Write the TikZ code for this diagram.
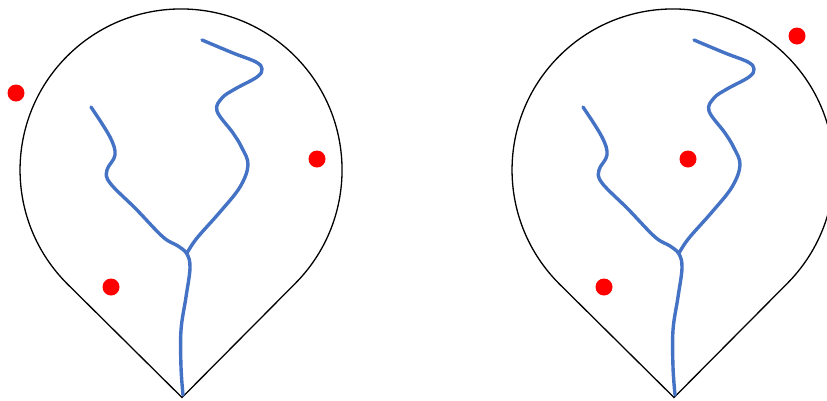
\documentclass[tikz,border=0pt]{standalone}
\usepackage{tikz}

\tikzset{
  outline/.style={draw=black, line width=1.3pt, line join=miter},
  river/.style={draw={rgb,255:red,68;green,114;blue,196}, line width=3.4pt, line cap=round, line join=round},
  spot/.style={fill=red}
}

\begin{document}
\begin{tikzpicture}[x=1pt, y=-1pt]
  \useasboundingbox (0,0) rectangle (827,400);
  \clip (0,0) rectangle (827,400);

  % two basins, same outline and river
  \foreach \dx in {0,492} {
    \begin{scope}[xshift=\dx]
      \draw[outline] (182,397.5) -- (67.2,283.8) arc[start angle=135, end angle=405, radius=161] -- cycle;
      \draw[river] plot[smooth, tension=0.6] coordinates {(183,395) (181,367) (181,330) (186,297) (190,268) (187,254) (178,246) (163,237) (136,209) (110,183) (107,170) (115,155) (110,137) (91,107)};
      \draw[river] plot[smooth, tension=0.6] coordinates {(187,253) (197,238) (220,212) (240,187) (248,165) (242,148) (233,133) (217,111) (222,98) (235,89) (257,77) (262,69) (256,62) (233,53) (202,40)};
    \end{scope}
  }

  % points
  \fill[spot] (16,93) circle (8.5);
  \fill[spot] (317,159) circle (8.5);
  \fill[spot] (111,287) circle (8.5);
  \fill[spot] (797,36) circle (8.5);
  \fill[spot] (688,159) circle (8.5);
  \fill[spot] (604,287) circle (8.5);
\end{tikzpicture}
\end{document}
